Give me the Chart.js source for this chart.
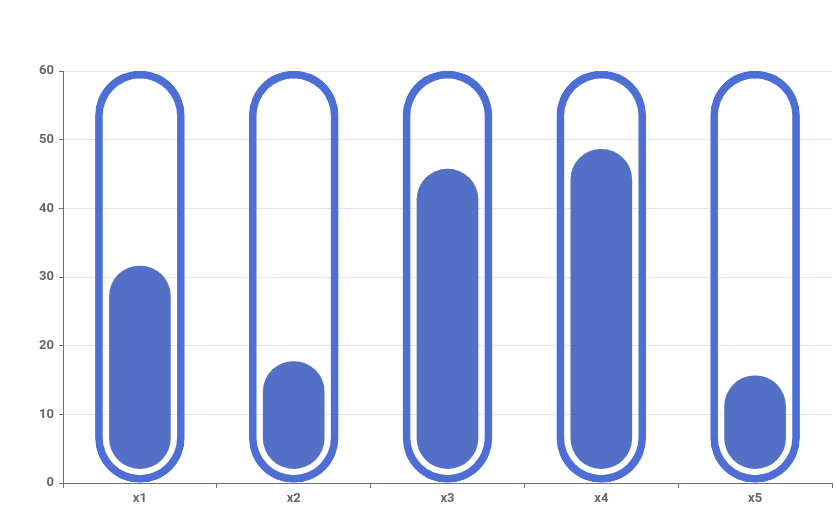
<!DOCTYPE html>
<html>
<head>
<meta charset="utf-8">
<script src="https://cdn.jsdelivr.net/npm/chart.js@4/dist/chart.umd.min.js"></script>
<style>
  html, body { margin: 0; padding: 0; background: #fff; }
  #wrap { width: 837px; height: 529px; }
</style>
</head>
<body>
<div id="wrap"><canvas id="capsuleChart"></canvas></div>
<script>
// ----- DATA -----
const categories = ['x1', 'x2', 'x3', 'x4', 'x5'];
const fillValues = [31.6, 17.7, 45.7, 48.6, 15.6];
const fillBase = 2.1;          // inner bar starts slightly above zero
const capsuleMax = 60;         // outer outline height
const yTicks = [0, 10, 20, 30, 40, 50, 60];

const axisColor = '#6e7079';
const labelColor = '#666666';
const gridColor = '#e0e6f1';
const outlineColor = '#4d6fd5';
const fillColor = '#5470c6';
const labelFont = { family: "Roboto, 'DejaVu Sans Condensed', sans-serif", size: 13, weight: 'bold' };

const ctx = document.getElementById('capsuleChart').getContext('2d');
new Chart(ctx, {
    type: 'bar',
    data: {
        labels: categories,
        datasets: [
            {
                label: 'outline',
                data: categories.map(() => capsuleMax),
                backgroundColor: 'rgba(0,0,0,0)',
                borderColor: outlineColor,
                borderWidth: 7,
                borderRadius: 100,
                borderSkipped: false,
                barThickness: 89,
                grouped: false
            },
            {
                label: 'value',
                data: fillValues.map(v => [fillBase, v]),
                backgroundColor: fillColor,
                borderWidth: 0,
                borderRadius: 100,
                borderSkipped: false,
                barThickness: 61,
                grouped: false
            }
        ]
    },
    options: {
        responsive: true,
        maintainAspectRatio: false,
        animation: false,
        layout: { padding: { top: 71, right: 5, bottom: 0, left: 0 } },
        plugins: { legend: { display: false }, tooltip: { enabled: false } },
        scales: {
            x: {
                grid: { display: true, drawOnChartArea: false, offset: true, tickLength: 5, color: axisColor },
                border: { color: axisColor, width: 1 },
                ticks: { color: labelColor, font: labelFont, padding: 3 },
                afterFit: s => { s.height = 46; }
            },
            y: {
                min: 0,
                max: 60,
                afterBuildTicks: s => { s.ticks = yTicks.map(v => ({ value: v })); },
                grid: { color: gridColor, tickColor: axisColor, tickLength: 4 },
                border: { color: axisColor, width: 1 },
                ticks: { color: labelColor, font: labelFont, padding: 5 },
                afterFit: s => { s.width = 63; }
            }
        }
    }
});
</script>
</body>
</html>
